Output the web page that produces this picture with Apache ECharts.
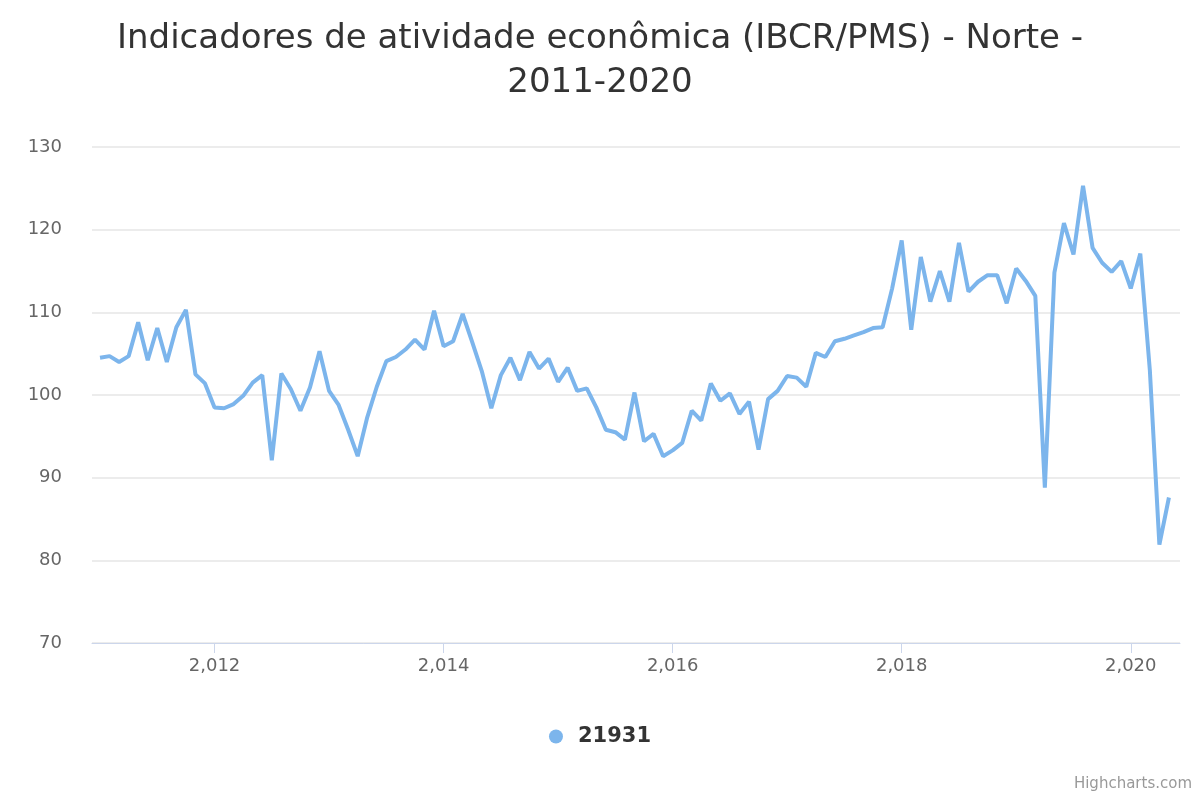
<!DOCTYPE html>
<html>
<head>
<meta charset="utf-8">
<script src="https://cdn.jsdelivr.net/npm/echarts@6/dist/echarts.min.js"></script>
<style>html,body{margin:0;padding:0;background:#fff}#main{width:1200px;height:800px}</style>
</head>
<body>
<div id="main"></div>
<script>
// monthly values, Jan 2011 .. May 2020
var startYear = 2011;
var values = [
  104.5, 104.7, 104.0, 104.7, 108.8, 104.2, 108.1, 104.0, 108.2, 110.3, 102.5, 101.4,
  98.5, 98.4, 98.9, 99.9, 101.5, 102.4, 92.1, 102.6, 100.7, 98.1, 100.9, 105.3,
  100.5, 98.8, 95.8, 92.6, 97.3, 101.0, 104.1, 104.6, 105.5, 106.7, 105.5, 110.2,
  105.9, 106.5, 109.8, 106.4, 102.9, 98.4, 102.4, 104.5, 101.8, 105.2, 103.2, 104.4,
  101.6, 103.3, 100.5, 100.8, 98.5, 95.8, 95.5, 94.6, 100.3, 94.4, 95.3, 92.6,
  93.3, 94.2, 98.1, 96.9, 101.4, 99.3, 100.2, 97.7, 99.2, 93.4, 99.5, 100.5,
  102.3, 102.1, 101.0, 105.1, 104.6, 106.5, 106.8, 107.2, 107.6, 108.1, 108.2, 112.9,
  118.7, 107.9, 116.7, 111.3, 115.0, 111.3, 118.4, 112.5, 113.7, 114.5, 114.5, 111.1,
  115.3, 113.8, 112.0, 88.8, 114.8, 120.8, 117.0, 125.3, 117.8, 116.0, 114.9, 116.2,
  112.9, 117.1, 103.0, 81.9, 87.6
];
var yearTicks = [2012, 2014, 2016, 2018, 2020];
var seriesName = '21931';

var data = values.map(function (v, i) { return [startYear + i / 12, v]; });

var chart = echarts.init(document.getElementById('main'));
chart.setOption({
  animation: false,
  title: {
    text: 'Indicadores de atividade econômica (IBCR/PMS) - Norte -\n2011-2020',
    left: 'center', top: 12,
    textStyle: { fontFamily: 'DejaVu Sans', fontSize: 34, fontWeight: 'normal', color: '#333', lineHeight: 44 }
  },
  grid: { left: 92, right: 20, top: 147, bottom: 157 },
  legend: {
    bottom: 48, left: 'center', itemWidth: 34, itemHeight: 14,
    textStyle: { fontFamily: 'DejaVu Sans', fontSize: 21, fontWeight: 'bold', color: '#333' },
    data: [{ name: seriesName, icon: 'circle' }]
  },
  xAxis: {
    type: 'value', min: 2010.93, max: 2020.43,
    splitLine: { show: false },
    axisLine: { lineStyle: { color: '#ccd6eb' } },
    axisTick: { show: true, customValues: yearTicks, length: 10, lineStyle: { color: '#ccd6eb' } },
    axisLabel: { customValues: yearTicks, color: '#666', fontSize: 18, fontFamily: 'DejaVu Sans', margin: 14 }
  },
  yAxis: {
    type: 'value', min: 70, max: 130, interval: 10,
    axisLine: { show: false }, axisTick: { show: false },
    splitLine: { lineStyle: { color: '#e6e6e6', width: 1.5 } },
    axisLabel: { color: '#666', fontSize: 18, fontFamily: 'DejaVu Sans', margin: 30 }
  },
  series: [{
    name: seriesName, type: 'line', data: data, showSymbol: false,
    itemStyle: { color: '#7cb5ec' },
    lineStyle: { color: '#7cb5ec', width: 4 }
  }],
  graphic: [{
    type: 'text', right: 8, bottom: 8,
    style: { text: 'Highcharts.com', fill: '#999', fontSize: 15, fontFamily: 'DejaVu Sans' }
  }]
});
</script>
</body>
</html>
